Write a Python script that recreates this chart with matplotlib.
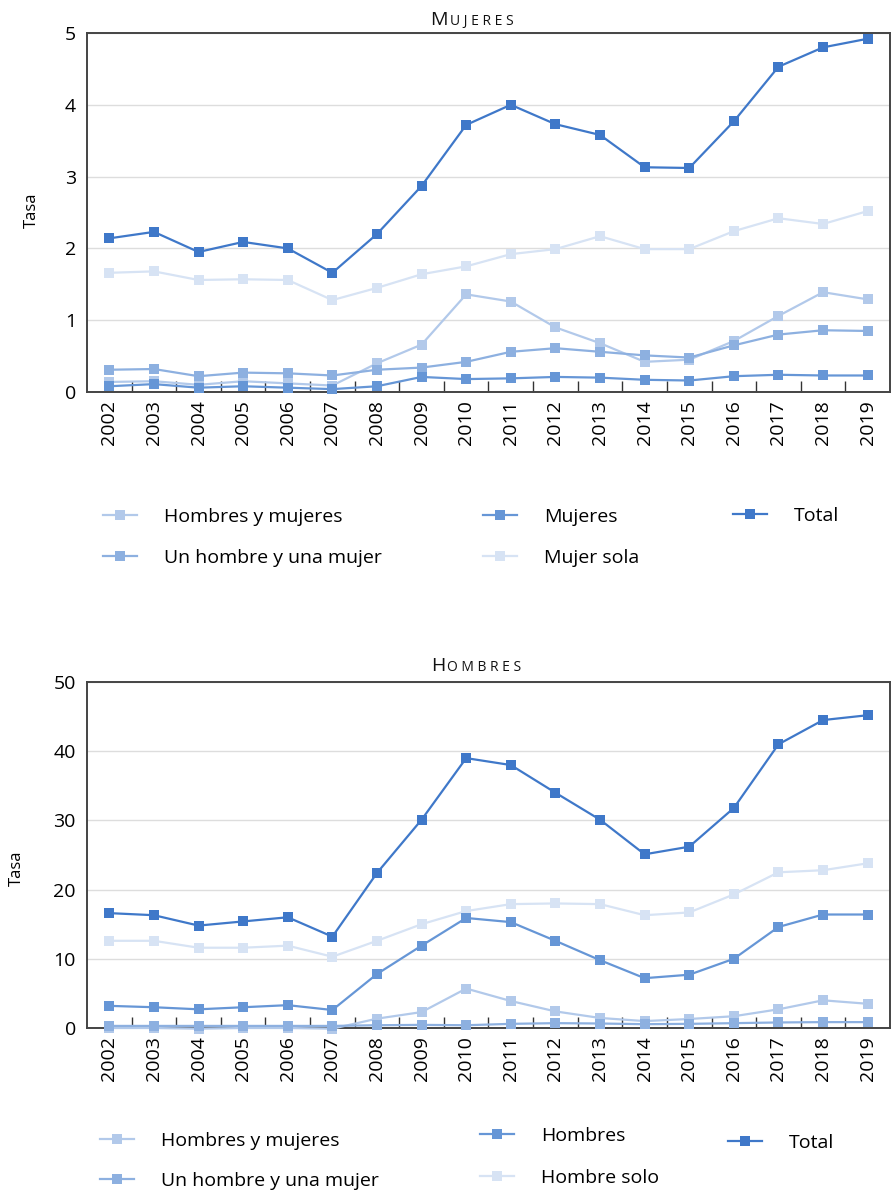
import matplotlib.pyplot as plt
from matplotlib.ticker import FixedLocator, MultipleLocator

plt.rcParams['font.family'] = ['Open Sans', 'DejaVu Sans']

years = list(range(2002, 2020))

# Mujeres
m_total = [2.14, 2.23, 1.95, 2.09, 2.00, 1.66, 2.20, 2.87, 3.72, 4.00, 3.73, 3.58, 3.13, 3.12, 3.77, 4.53, 4.80, 4.92]
m_sola = [1.66, 1.68, 1.56, 1.57, 1.56, 1.28, 1.45, 1.64, 1.75, 1.92, 1.99, 2.17, 1.99, 1.99, 2.24, 2.42, 2.34, 2.52]
m_hym = [0.14, 0.15, 0.10, 0.15, 0.12, 0.09, 0.40, 0.66, 1.36, 1.26, 0.90, 0.68, 0.42, 0.45, 0.71, 1.06, 1.39, 1.29]
m_pareja = [0.31, 0.32, 0.22, 0.27, 0.26, 0.23, 0.31, 0.34, 0.42, 0.56, 0.61, 0.56, 0.51, 0.48, 0.65, 0.80, 0.86, 0.85]
m_mujeres = [0.08, 0.11, 0.06, 0.08, 0.06, 0.04, 0.08, 0.21, 0.18, 0.19, 0.21, 0.20, 0.17, 0.16, 0.22, 0.24, 0.23, 0.23]

# Hombres
h_total = [16.6, 16.3, 14.8, 15.4, 16.0, 13.2, 22.4, 30.1, 39.0, 38.0, 34.0, 30.1, 25.1, 26.2, 31.8, 41.0, 44.5, 45.2]
h_solo = [12.6, 12.6, 11.6, 11.6, 11.9, 10.3, 12.6, 15.0, 16.9, 17.9, 18.0, 17.9, 16.3, 16.7, 19.3, 22.5, 22.8, 23.8]
h_hombres = [3.2, 3.0, 2.7, 3.0, 3.3, 2.6, 7.8, 11.9, 15.9, 15.3, 12.6, 9.8, 7.2, 7.7, 10.0, 14.6, 16.4, 16.4]
h_hym = [0.0, 0.0, -0.1, 0.0, 0.0, -0.1, 1.35, 2.3, 5.7, 3.9, 2.4, 1.45, 1.0, 1.3, 1.7, 2.7, 4.0, 3.5]
h_pareja = [0.3, 0.3, 0.3, 0.3, 0.3, 0.3, 0.4, 0.45, 0.4, 0.6, 0.7, 0.65, 0.55, 0.6, 0.7, 0.8, 0.85, 0.85]

c_total = '#3f78c9'
c_sex = '#6696d6'
c_pareja = '#8db0e0'
c_hym = '#b2c9ea'
c_solo = '#d7e3f4'

fig = plt.figure(figsize=(8.92, 11.94), dpi=100)
ax1 = fig.add_axes([87 / 892, 1 - 392 / 1194, 803 / 892, 359 / 1194])
ax2 = fig.add_axes([87 / 892, 1 - 1028 / 1194, 803 / 892, 346 / 1194])


def draw(ax, series, ymax, step):
    handles = {}
    for name, vals, col in series:
        ln, = ax.plot(years, vals, color=col, lw=1.6, marker='s', ms=6.5,
                      markeredgewidth=0, label=name, clip_on=False, zorder=3)
        handles[name] = ln
    ax.set_xlim(2001.5, 2019.5)
    ax.set_ylim(0, ymax)
    ax.yaxis.set_major_locator(MultipleLocator(step))
    ax.xaxis.set_major_locator(FixedLocator(years))
    ax.xaxis.set_minor_locator(FixedLocator([y + 0.5 for y in years[:-1]]))
    ax.set_xticklabels([str(y) for y in years], rotation=90, fontsize=14)
    ax.tick_params(axis='x', which='major', length=0, pad=6)
    ax.tick_params(axis='x', which='minor', length=8, direction='in', width=1, color='#333333')
    ax.tick_params(axis='y', length=0, labelsize=14, pad=8)
    ax.grid(axis='y', color='#dddddd', lw=1)
    ax.set_axisbelow(True)
    for s in ax.spines.values():
        s.set_color('#444444')
        s.set_linewidth(1.4)
    return handles


def small_caps_title(x, y, first, rest):
    t = fig.text(x, y, first, fontsize=14, ha='left', va='baseline', color='#111111')
    ax1.annotate(rest, xy=(1, 0), xycoords=t, xytext=(1.5, 0), textcoords='offset points',
                 fontsize=10, ha='left', va='bottom', color='#111111',
                 annotation_clip=False)


def legend_col(handles, names, x, ys):
    yc = sum(ys) / len(ys)
    spacing = 0.0 if len(ys) == 1 else (ys[1] - ys[0]) / 19.4 - 0.85
    fig.legend([handles[k] for k in names], names, loc='center left',
               bbox_to_anchor=(x / 892, 1 - yc / 1194), frameon=False, fontsize=14,
               handlelength=1.75, handletextpad=1.4, labelspacing=spacing,
               borderaxespad=0, borderpad=0)


h1 = draw(ax1, [
    ('Mujer sola', m_sola, c_solo),
    ('Hombres y mujeres', m_hym, c_hym),
    ('Un hombre y una mujer', m_pareja, c_pareja),
    ('Mujeres', m_mujeres, c_sex),
    ('Total', m_total, c_total),
], 5, 1)

h2 = draw(ax2, [
    ('Hombre solo', h_solo, c_solo),
    ('Hombres y mujeres', h_hym, c_hym),
    ('Un hombre y una mujer', h_pareja, c_pareja),
    ('Hombres', h_hombres, c_sex),
    ('Total', h_total, c_total),
], 50, 10)

fig.text(32 / 892, 1 - 210 / 1194, 'Tasa', rotation=90, fontsize=12, ha='center', va='center')
fig.text(17 / 892, 1 - 868 / 1194, 'Tasa', rotation=90, fontsize=12, ha='center', va='center')

small_caps_title(430 / 892, 1 - 25 / 1194, 'M', 'U J E R E S')
small_caps_title(431 / 892, 1 - 671 / 1194, 'H', 'O M B R E S')

legend_col(h1, ['Hombres y mujeres', 'Un hombre y una mujer'], 103, [518, 557])
legend_col(h1, ['Mujeres', 'Mujer sola'], 483, [518, 557])
legend_col(h1, ['Total'], 733, [516])

legend_col(h2, ['Hombres y mujeres', 'Un hombre y una mujer'], 100, [1142, 1180])
legend_col(h2, ['Hombres', 'Hombre solo'], 480, [1137, 1177])
legend_col(h2, ['Total'], 728, [1143])

fig.savefig('out.png', dpi=100)
